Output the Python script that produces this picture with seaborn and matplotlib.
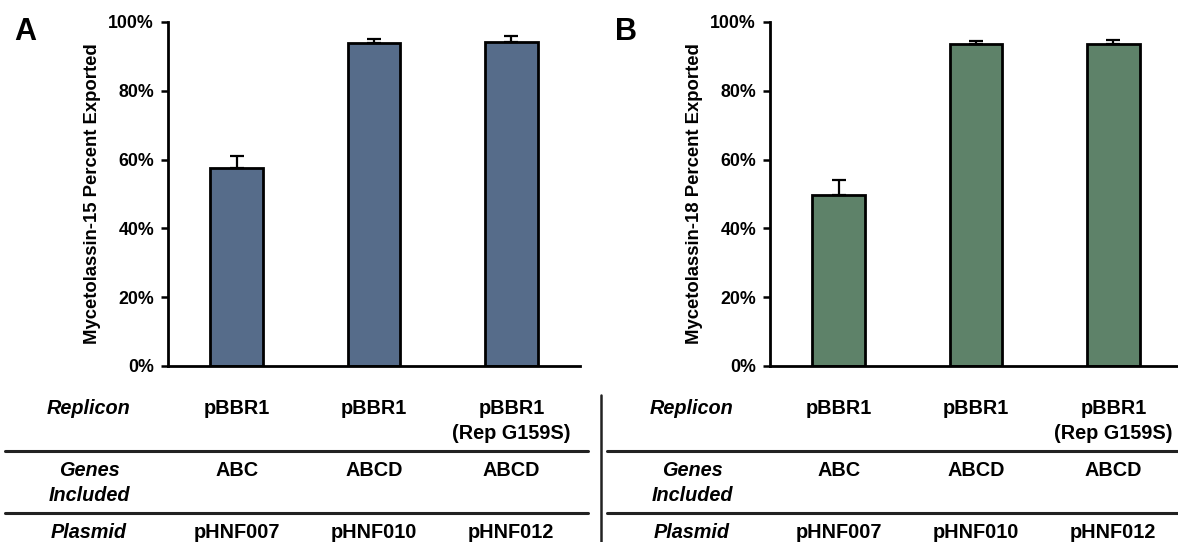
import matplotlib
matplotlib.use("Agg")
import matplotlib.pyplot as plt
import matplotlib.transforms as mtransforms
from matplotlib.ticker import PercentFormatter
import seaborn as sns
import pandas as pd

# Export efficiency (percent) for each plasmid construct
plasmids = ["pHNF007", "pHNF010", "pHNF012"]
replicons = ["pBBR1", "pBBR1", "pBBR1\n(Rep G159S)"]
genes = ["ABC", "ABCD", "ABCD"]

m15_mean = [57.5, 94.0, 94.2]
m15_err = [3.5, 1.0, 1.7]
m18_mean = [49.8, 93.5, 93.5]
m18_err = [4.2, 0.9, 1.2]

yticks = [0, 20, 40, 60, 80, 100]

sns.set_theme(style="white")
plt.rcParams["font.family"] = ["Liberation Sans", "DejaVu Sans"]
plt.rcParams["font.weight"] = "bold"
plt.rcParams["text.color"] = "black"
plt.rcParams["axes.labelcolor"] = "black"
plt.rcParams["ytick.color"] = "black"
plt.rcParams["xtick.color"] = "black"

W, H = 1178, 542
fig = plt.figure(figsize=(W / 100, H / 100), dpi=100)
fig.patch.set_facecolor("white")


def px_axes(x0, y_top, x1, y_bot):
    return fig.add_axes([x0 / W, 1 - y_bot / H, (x1 - x0) / W, (y_bot - y_top) / H])


panels = [
    dict(letter="A", letter_x=25, axes=(168, 22, 580, 366), mean=m15_mean, err=m15_err,
         color="#566c8a", ylabel="Mycetolassin-15 Percent Exported",
         row_label_x=89, hline=(5, 588)),
    dict(letter="B", letter_x=626, axes=(770, 22, 1182, 366), mean=m18_mean, err=m18_err,
         color="#5e8269", ylabel="Mycetolassin-18 Percent Exported",
         row_label_x=692, hline=(607, 1178)),
]

TABLE_FS = 14.3

for p in panels:
    ax = px_axes(*p["axes"])
    df = pd.DataFrame({"plasmid": plasmids, "value": p["mean"]})
    sns.barplot(data=df, x="plasmid", y="value", color=p["color"], saturation=1,
                width=0.385, edgecolor="black", linewidth=2, errorbar=None, ax=ax)
    ax.errorbar(range(len(plasmids)), p["mean"],
                yerr=[[0] * len(plasmids), p["err"]],
                fmt="none", ecolor="black", elinewidth=1.6, capsize=5, capthick=1.6,
                zorder=1)
    ax.set_xlim(-0.5, 2.5)
    ax.set_ylim(0, 100)
    ax.set_yticks(yticks)
    ax.yaxis.set_major_formatter(PercentFormatter(decimals=0))
    ax.set_xticks([])
    ax.set_xlabel("")
    ax.set_ylabel(p["ylabel"], fontsize=13.3, fontweight="bold", labelpad=5, color="black")
    for s in ("top", "right"):
        ax.spines[s].set_visible(False)
    for s in ("left", "bottom"):
        ax.spines[s].set_color("black")
        ax.spines[s].set_linewidth(2)
    ax.tick_params(axis="y", direction="out", length=5, width=1.8, color="black",
                   labelcolor="black", labelsize=12.8, pad=5, left=True)
    for lab in ax.get_yticklabels():
        lab.set_fontweight("bold")
    ax.patch.set_alpha(0)

    fig.text(p["letter_x"] / W, 1 - 32 / H, p["letter"], fontsize=22, fontweight="bold",
             ha="center", va="center", color="black")

    # Construct table beneath the bars
    blend = mtransforms.blended_transform_factory(ax.transData, fig.transFigure)
    rows = [(399, replicons), (461, genes), (523, plasmids)]
    for y_top, vals in rows:
        for i, v in enumerate(vals):
            ax.text(i, 1 - y_top / H, v, transform=blend, ha="center", va="top",
                    fontsize=TABLE_FS, fontweight="bold", linespacing=1.4,
                    clip_on=False, color="black")
    row_labels = [(399, "Replicon"), (461, "Genes\nIncluded"), (523, "Plasmid")]
    for y_top, t in row_labels:
        fig.text(p["row_label_x"] / W, 1 - y_top / H, t, ha="center", va="top",
                 fontsize=TABLE_FS, fontweight="bold", style="italic",
                 linespacing=1.4, color="black")
    for y in (451, 513):
        fig.add_artist(plt.Line2D([p["hline"][0] / W, p["hline"][1] / W], [1 - y / H] * 2,
                                  color="#222222", linewidth=2.2))

# Divider between the two tables
fig.add_artist(plt.Line2D([601 / W] * 2, [1 - 395 / H, 0], color="#222222", linewidth=1.8))

fig.savefig("out.png", dpi=100, facecolor="white")
